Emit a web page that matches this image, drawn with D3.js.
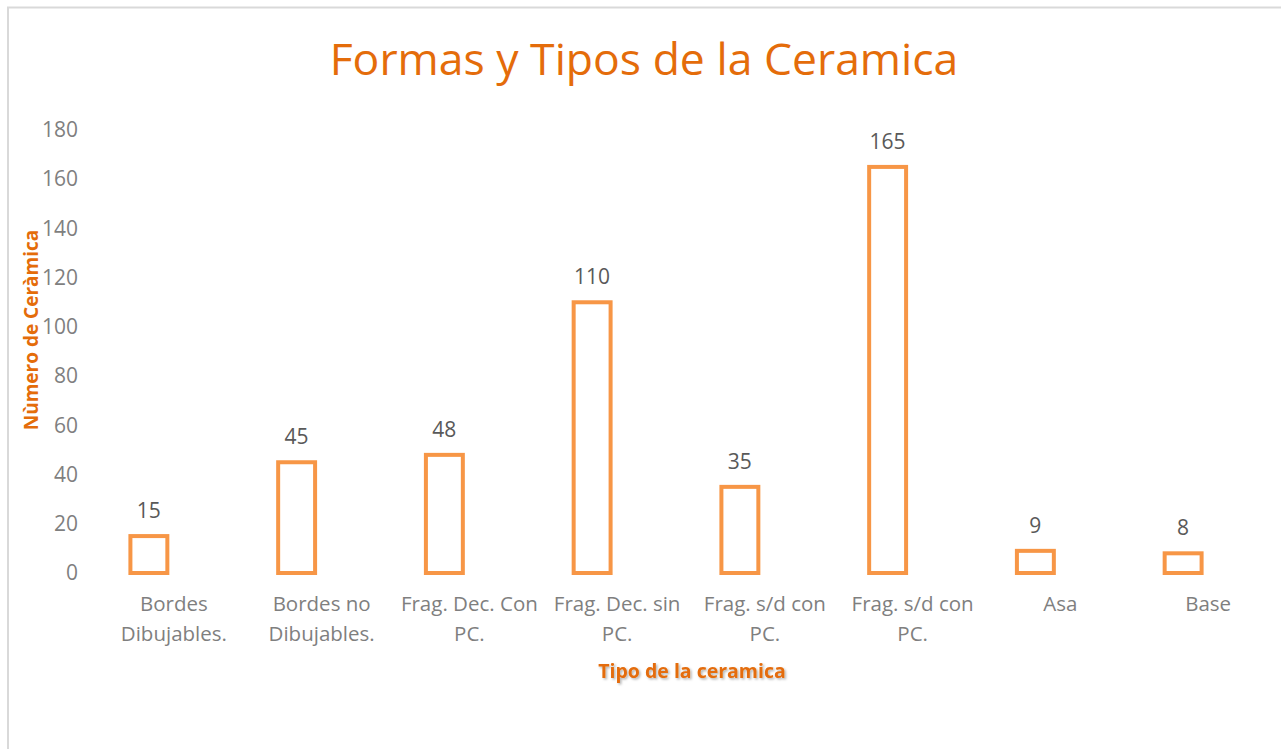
<!DOCTYPE html>
<html>
<head>
<meta charset="utf-8">
<script src="https://cdn.jsdelivr.net/npm/d3@7"></script>
<style>
  html, body { margin: 0; padding: 0; background: #fff; }
  svg { display: block; font-family: "Open Sans", sans-serif; }
</style>
</head>
<body>
<svg id="chart" width="1281" height="749"></svg>
<script>
// Pottery fragment counts by form / type
const categories = [
  ["Bordes", "Dibujables."],
  ["Bordes no", "Dibujables."],
  ["Frag. Dec. Con", "PC."],
  ["Frag. Dec. sin", "PC."],
  ["Frag. s/d con", "PC."],
  ["Frag. s/d con", "PC."],
  ["Asa"],
  ["Base"]
];
const counts = [15, 45, 48, 110, 35, 165, 9, 8];
const yTicks = [0, 20, 40, 60, 80, 100, 120, 140, 160, 180];

const titleText = "Formas y Tipos de la Ceramica";
const yTitle = "Nùmero de Ceràmica";
const xTitle = "Tipo de la ceramica";

const svg = d3.select("#chart");
const W = 1281, H = 749;

const plot = { left: 75, right: 1257, top: 130, bottom: 573 };
const orange = "#F79646";
const titleOrange = "#E46C0A";
const gray = "#7F7F7F";

// outer frame
svg.append("rect")
  .attr("x", 8).attr("y", 7.5)
  .attr("width", W + 10).attr("height", H + 10)
  .attr("fill", "none").attr("stroke", "#D9D9D9").attr("stroke-width", 2);

const x = d3.scaleBand()
  .domain(d3.range(categories.length))
  .range([plot.left, plot.right])
  .paddingInner(0.75)
  .paddingOuter(0.375);

const y = d3.scaleLinear().domain([0, 180]).range([plot.bottom, plot.top]);

// title
svg.append("text")
  .attr("x", 644).attr("y", 75)
  .attr("text-anchor", "middle")
  .attr("fill", titleOrange)
  .attr("font-size", 44.5)
  .text(titleText);

// y axis (labels only)
const yAxis = d3.axisLeft(y).tickValues(yTicks).tickSize(0).tickPadding(0);
const gy = svg.append("g").attr("transform", `translate(${plot.left + 3},0)`).call(yAxis);
gy.select(".domain").remove();
gy.selectAll("text")
  .attr("fill", gray)
  .attr("font-size", 21)
  .attr("font-family", "Open Sans, sans-serif");

// x axis category labels (drawn slightly right of the bar centres)
const xAxis = d3.axisBottom(x).tickSize(0).tickFormat(() => "");
const gx = svg.append("g").attr("transform", `translate(25,${plot.bottom})`).call(xAxis);
gx.select(".domain").remove();
gx.selectAll(".tick").each(function(d) {
  const t = d3.select(this).append("text")
    .attr("text-anchor", "middle")
    .attr("fill", gray)
    .attr("font-size", 20.5)
    .attr("font-family", "Open Sans, sans-serif");
  categories[d].forEach((line, i) => {
    t.append("tspan").attr("x", 0).attr("y", 38 + i * 30).text(line);
  });
});

// bars (outlined)
svg.append("g").selectAll("rect")
  .data(counts)
  .join("rect")
  .attr("x", (d, i) => x(i))
  .attr("y", d => y(d))
  .attr("width", x.bandwidth())
  .attr("height", d => y(0) - y(d))
  .attr("fill", "#fff")
  .attr("stroke", orange)
  .attr("stroke-width", 4);

// value labels
svg.append("g").selectAll("text")
  .data(counts)
  .join("text")
  .attr("x", (d, i) => x(i) + x.bandwidth() / 2)
  .attr("y", d => y(d) - 18)
  .attr("text-anchor", "middle")
  .attr("fill", "#595959")
  .attr("font-size", 21)
  .text(d => d);

// axis titles
svg.append("text")
  .attr("transform", "translate(38,330) rotate(-90)")
  .attr("text-anchor", "middle")
  .attr("fill", titleOrange)
  .attr("font-size", 19)
  .attr("font-weight", "bold")
  .text(yTitle);

const defs = svg.append("defs");
const f = defs.append("filter").attr("id", "shadow").attr("x", "-10%").attr("y", "-30%").attr("width", "120%").attr("height", "160%");
f.append("feDropShadow").attr("dx", 1.5).attr("dy", 1.5).attr("stdDeviation", 0.8)
  .attr("flood-color", "#000").attr("flood-opacity", 0.3);

svg.append("text")
  .attr("x", 692).attr("y", 678)
  .attr("text-anchor", "middle")
  .attr("fill", titleOrange)
  .attr("font-size", 19.5)
  .attr("font-weight", "bold")
  .attr("filter", "url(#shadow)")
  .text(xTitle);
</script>
</body>
</html>
